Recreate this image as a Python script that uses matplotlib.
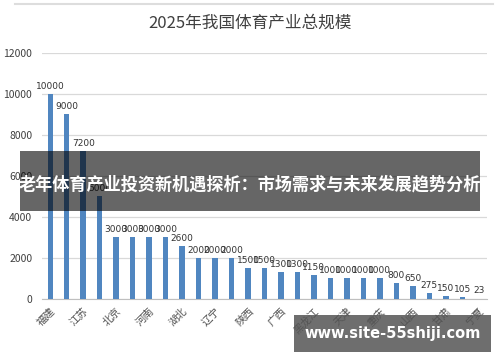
import matplotlib
matplotlib.use('Agg')
import matplotlib.pyplot as plt
from matplotlib.patches import Rectangle

plt.rcParams['font.family'] = ['Noto Sans CJK SC', 'DejaVu Sans']

title = '2025年我国体育产业总规模'
provinces = ['福建', '广东', '江苏', '浙江', '北京', '上海', '河南', '山东', '湖北',
             '湖南', '辽宁', '四川', '陕西', '安徽', '广西', '云南', '黑龙江', '吉林',
             '天津', '河北', '重庆', '江西', '山西', '贵州', '甘肃', '内蒙古', '宁夏']
values = [10000, 9000, 7200, 5000, 3000, 3000, 3000, 3000, 2600, 2000, 2000, 2000,
          1500, 1500, 1300, 1300, 1150, 1000, 1000, 1000, 1000, 800, 650, 275, 150,
          105, 23]
yticks = [0, 2000, 4000, 6000, 8000, 10000, 12000]
banner = '老年体育产业投资新机遇探析：市场需求与未来发展趋势分析'
watermark = 'www.site-55shiji.com'

fig = plt.figure(figsize=(5, 3.62), dpi=100)
ax = fig.add_axes([0.084, 0.174, 0.89, 0.68])

x = range(len(values))
ax.bar(x, values, width=0.33, color='#5086c0', zorder=3)
for i, v in zip(x, values):
    ax.text(i, v + 150, str(v), ha='center', va='bottom', fontsize=6.5,
            color='#333333', family=['DejaVu Sans'])

ax.set_xlim(-0.5, len(values) - 0.5)
ax.set_ylim(0, 12000)
ax.set_yticks(yticks)
ax.set_yticklabels([str(t) for t in yticks], fontsize=7.5, color='#404040')
ax.set_xticks(list(x)[::2])
ax.set_xticklabels(provinces[::2], rotation=45, ha='right', rotation_mode='anchor',
                   fontsize=7.5, color='#505050')
ax.tick_params(axis='y', length=0, pad=7)
ax.tick_params(axis='x', length=0, pad=5)
ax.grid(axis='y', color='#d9d9d9', linewidth=0.9, zorder=0)
for s in ['top', 'right', 'left']:
    ax.spines[s].set_visible(False)
ax.spines['bottom'].set_color('#bfbfbf')

fig.text(0.5, 0.935, title, ha='center', va='center', fontsize=12, color='#404040')
fig.add_artist(plt.Line2D([0.03, 0.985], [0.99, 0.99], color='#dddddd', lw=1.5,
                          transform=fig.transFigure))

# overlays
fig.add_artist(Rectangle((0.04, 0.417), 0.92, 0.166, transform=fig.transFigure,
                         facecolor='black', alpha=0.6, zorder=10))
fig.text(0.5, 0.49, banner, ha='center', va='center', fontsize=12.3,
         fontweight='bold', color='white', zorder=11)
fig.add_artist(Rectangle((0.588, 0.028), 0.394, 0.102, transform=fig.transFigure,
                         facecolor='#555555', alpha=0.85, zorder=10))
fig.text(0.785, 0.079, watermark, ha='center', va='center', fontsize=10.5,
         fontweight='bold', color='white', zorder=11, family=['DejaVu Sans'])

fig.savefig('out.png', dpi=100)
